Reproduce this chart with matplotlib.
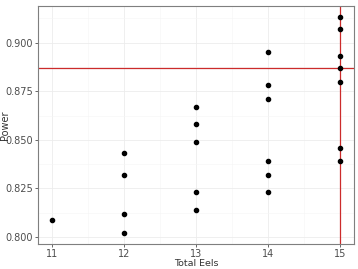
import matplotlib
matplotlib.use("Agg")
import matplotlib.pyplot as plt

total_eels = [11,
              12, 12, 12, 12,
              13, 13, 13, 13, 13,
              14, 14, 14, 14, 14, 14,
              15, 15, 15, 15, 15, 15, 15]
power = [0.809,
         0.843, 0.832, 0.812, 0.802,
         0.867, 0.858, 0.849, 0.823, 0.814,
         0.895, 0.878, 0.871, 0.839, 0.832, 0.823,
         0.913, 0.907, 0.893, 0.887, 0.880, 0.846, 0.839]
hline_y = 0.887
vline_x = 15
xticks = [11, 12, 13, 14, 15]
yticks = [0.800, 0.825, 0.850, 0.875, 0.900]

fig = plt.figure(figsize=(3.58, 2.69), dpi=100)
ax = fig.add_axes([0.106, 0.092, 0.883, 0.886])

# faint ggplot-style grid, major + minor
for v in xticks:
    ax.axvline(v, color="#ececec", lw=0.6, zorder=0)
for v in [11.5, 12.5, 13.5, 14.5]:
    ax.axvline(v, color="#f5f5f5", lw=0.4, zorder=0)
for v in yticks:
    ax.axhline(v, color="#ececec", lw=0.6, zorder=0)
for v in [0.8125, 0.8375, 0.8625, 0.8875, 0.9125]:
    ax.axhline(v, color="#f5f5f5", lw=0.4, zorder=0)

ax.axhline(hline_y, color="#cc2b2b", lw=0.9, zorder=2)
ax.axvline(vline_x, color="#cc2b2b", lw=0.9, zorder=2)
ax.scatter(total_eels, power, s=9, color="black", zorder=3)

ax.set_xlim(10.8, 15.2)
ax.set_ylim(0.7963, 0.9189)
ax.set_xticks(xticks)
ax.set_yticks(yticks)
ax.set_yticklabels(["%.3f" % v for v in yticks])
ax.tick_params(labelsize=7, colors="#4d4d4d", length=2.5, width=0.6, pad=1)
for s in ax.spines.values():
    s.set_color("#7f7f7f")
    s.set_linewidth(0.8)

# x label placed just above the bottom edge of the figure
fig.text(0.106 + 0.883 / 2, 0.002, "Total Eels", fontsize=6.8, color="#333333",
         ha="center", va="bottom")
ax.set_ylabel("Power", fontsize=7, color="#333333", va="center")
ax.yaxis.set_label_coords(-0.105, 0.5)

fig.savefig("out.png", dpi=100)
